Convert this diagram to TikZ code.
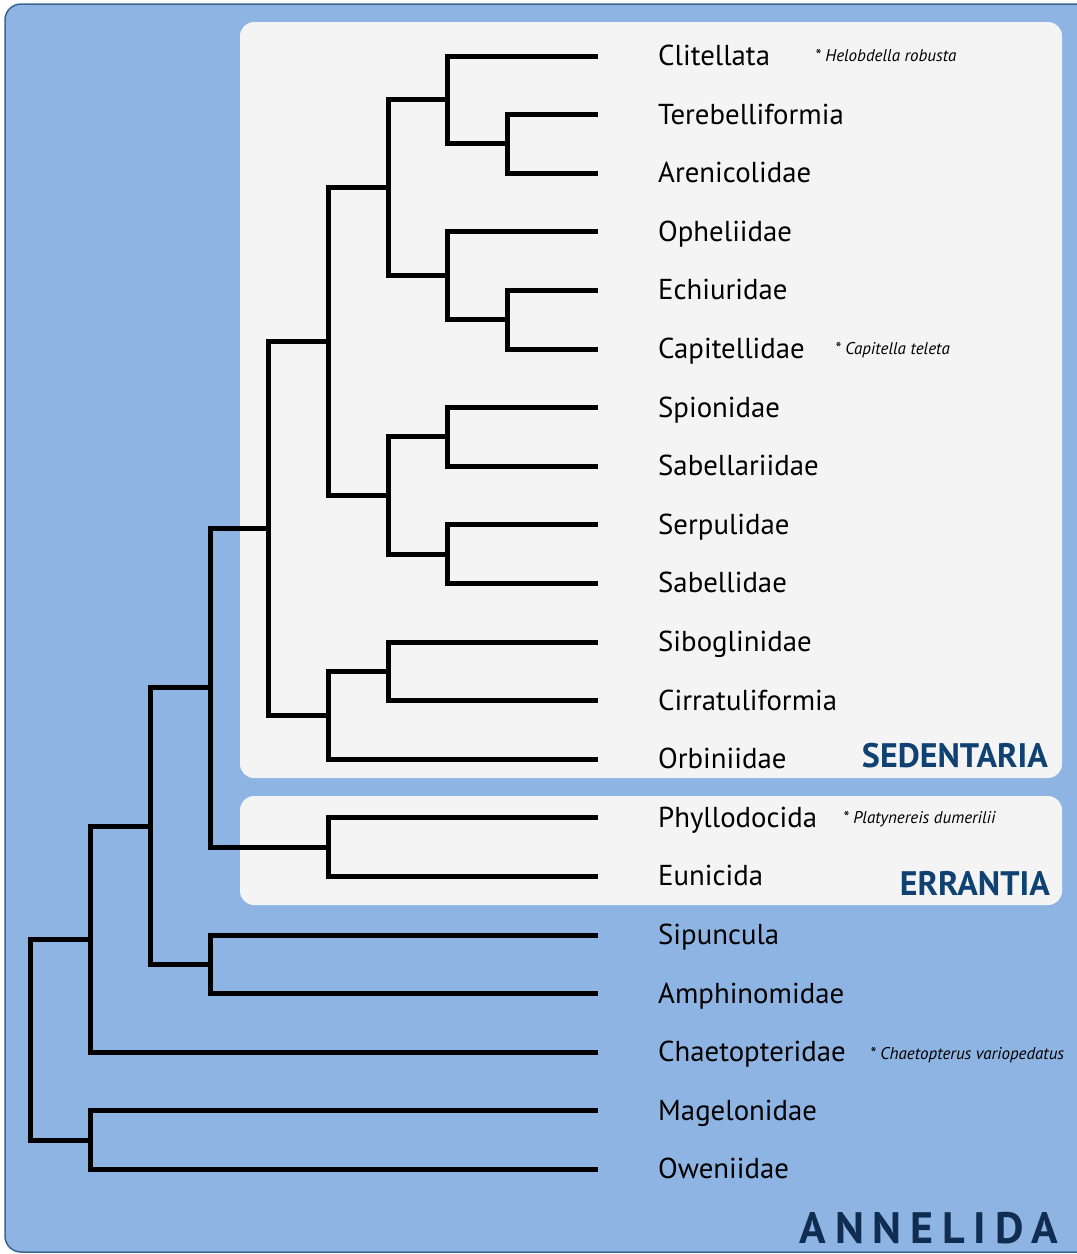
\documentclass[tikz,border=0pt]{standalone}
\usepackage{fontspec}
\setmainfont{PT Sans}
\newfontfamily\phylumfont[LetterSpace=20]{PT Sans}
\usetikzlibrary{calc,positioning}
\definecolor{annblue}{HTML}{8DB4E2}
\definecolor{panelgrey}{HTML}{F4F4F4}
\definecolor{rimblue}{HTML}{3A6591}
\definecolor{cladeblue}{HTML}{0F4272}
\definecolor{phylumblue}{HTML}{102C50}

\begin{document}
\begin{tikzpicture}[x=1pt,y=-1pt]
  \tikzset{branch/.style={line width=5pt, black},
    panel/.style={fill=panelgrey, rounded corners=14pt},
    taxon/.style={anchor=base west, inner sep=0pt,
      font=\fontsize{28.8}{34}\selectfont},
    species/.style={anchor=base west, inner sep=0pt,
      font=\fontsize{17}{20}\selectfont\itshape},
    clade/.style={anchor=base east, inner sep=0pt, text=cladeblue,
      font=\fontsize{34}{40}\selectfont\bfseries}}
  \useasboundingbox (0,0) rectangle (1077,1254);
  \filldraw[fill=annblue, draw=rimblue, line width=1.5pt, rounded corners=16pt]
    (5,4) rectangle (1095,1252);
  \fill[panel] (240,22) rectangle (1062,778);
  \fill[panel] (240,796) rectangle (1062,905);

  % leaves
  \foreach \taxname [count=\i from 0] in {Clitellata, Terebelliformia,
      Arenicolidae, Opheliidae, Echiuridae, Capitellidae, Spionidae,
      Sabellariidae, Serpulidae, Sabellidae, Siboglinidae, Cirratuliformia,
      Orbiniidae, Phyllodocida, Eunicida, Sipuncula, Amphinomidae,
      Chaetopteridae, Magelonidae, Oweniidae}{
    \coordinate (L\i) at (598, 56+58.6*\i);
    \node[taxon] (t\i) at ($(L\i)+(60,9.5)$) {\taxname};
  }

  % inner nodes
  \coordinate (root) at (30,1039.6);
  \coordinate (a) at (90,939.1);
  \coordinate (mo) at (90,1140.1);
  \coordinate (b) at (150,826.05);
  \coordinate (sa) at (210,964.3);
  \coordinate (c) at (210,687.8);
  \coordinate (err) at (328,847.1);
  \coordinate (d) at (268,528.5);
  \coordinate (e) at (328,341.7);
  \coordinate (f) at (328,715.25);
  \coordinate (sc) at (388,671.3);
  \coordinate (g) at (388,187.85);
  \coordinate (h) at (388,495.5);
  \coordinate (i) at (447,99.95);
  \coordinate (m) at (507,143.9);
  \coordinate (j) at (447,275.75);
  \coordinate (n) at (507,319.7);
  \coordinate (k) at (447,436.9);
  \coordinate (l) at (447,554.1);

  \draw[branch] (root) |- (a) (root) |- (mo);
  \draw[branch] (a) |- (b) (a) |- (L17);
  \draw[branch] (mo) |- (L18) (mo) |- (L19);
  \draw[branch] (b) |- (c) (b) |- (sa);
  \draw[branch] (sa) |- (L15) (sa) |- (L16);
  \draw[branch] (c) |- (d) (c) |- (err);
  \draw[branch] (err) |- (L13) (err) |- (L14);
  \draw[branch] (d) |- (e) (d) |- (f);
  \draw[branch] (f) |- (sc) (f) |- (L12);
  \draw[branch] (sc) |- (L10) (sc) |- (L11);
  \draw[branch] (e) |- (g) (e) |- (h);
  \draw[branch] (g) |- (i) (g) |- (j);
  \draw[branch] (i) |- (L0) (i) |- (m);
  \draw[branch] (m) |- (L1) (m) |- (L2);
  \draw[branch] (j) |- (L3) (j) |- (n);
  \draw[branch] (n) |- (L4) (n) |- (L5);
  \draw[branch] (h) |- (k) (h) |- (l);
  \draw[branch] (k) |- (L6) (k) |- (L7);
  \draw[branch] (l) |- (L8) (l) |- (L9);

  % genomes
  \node[species] (helo) at (815,61.5) {* Helobdella robusta};
  \node[species] (capi) at (835,354) {* Capitella teleta};
  \node[species] (platy) at (843,823) {* Platynereis dumerilii};
  \node[species] (chaeto) at (870,1059) {* Chaetopterus variopedatus};

  % groups
  \node[clade] (sed) at (1048,767) {SEDENTARIA};
  \node[clade] (errl) at (1050,895) {ERRANTIA};
  \node[clade, text=phylumblue, font=\fontsize{44}{50}\phylumfont\bfseries]
    (ann) at (1058,1243) {ANNELIDA};
\end{tikzpicture}
\end{document}
